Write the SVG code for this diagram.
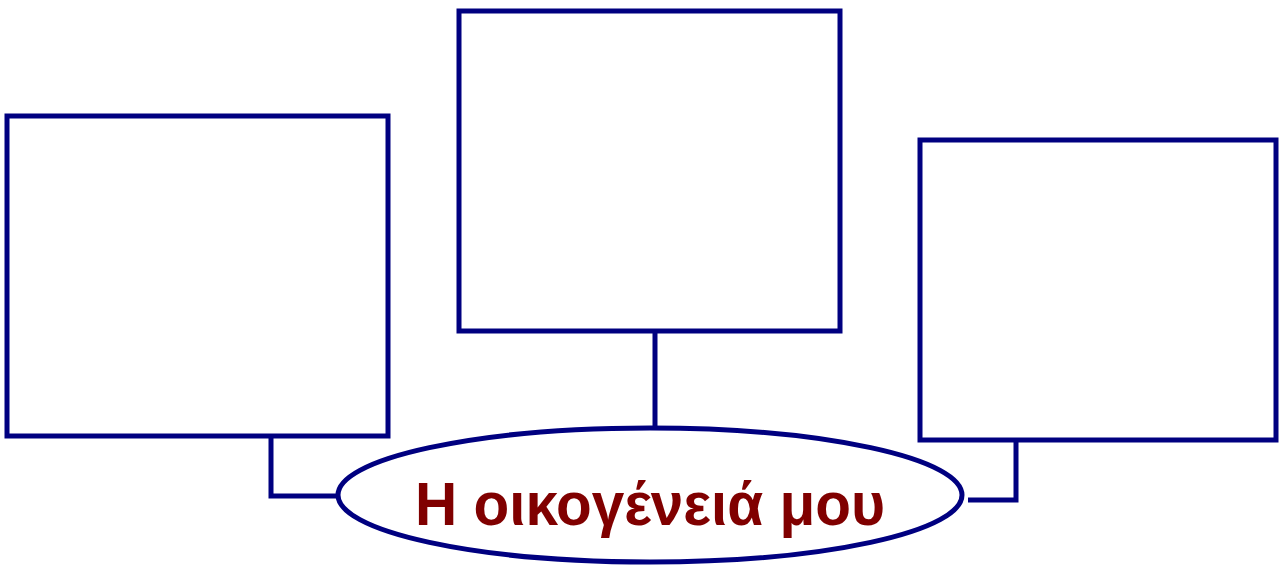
<svg xmlns="http://www.w3.org/2000/svg" width="1279" height="565" viewBox="0 0 1279 565">
<style>
.box{fill:#fff;stroke:#000080;stroke-width:5}
.conn{fill:none;stroke:#000080;stroke-width:5}
.lbl{font-family:"Liberation Sans","DejaVu Sans",sans-serif;font-weight:bold;font-size:62px;fill:#800000}
</style>
<rect width="1279" height="565" fill="#fff"/>
<g id="connectors">
<polyline class="conn" points="271,436 271,496 338,496"/>
<line class="conn" x1="655" y1="331" x2="655" y2="429"/>
<polyline class="conn" points="968,500 1016,500 1016,440"/>
</g>
<g id="box-left"><rect class="box" x="7" y="116" width="381" height="320"/></g>
<g id="box-middle"><rect class="box" x="459" y="11" width="381" height="320"/></g>
<g id="box-right"><rect class="box" x="920" y="140" width="356" height="300"/></g>
<g id="center">
<ellipse class="box" cx="650" cy="495" rx="312" ry="67"/>
<text class="lbl" x="650" y="525" text-anchor="middle" textLength="470" lengthAdjust="spacingAndGlyphs">Η οικογένειά μου</text>
</g>
</svg>
